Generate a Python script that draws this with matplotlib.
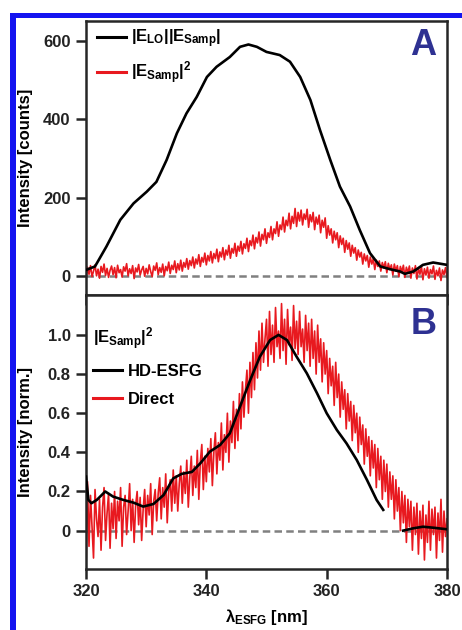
import numpy as np
import matplotlib
matplotlib.use("Agg")
import matplotlib.pyplot as plt
from matplotlib.patches import Rectangle

plt.rcParams['font.family'] = ['Liberation Sans', 'DejaVu Sans']
plt.rcParams['font.weight'] = 'bold'
plt.rcParams['mathtext.fontset'] = 'custom'
plt.rcParams['mathtext.rm'] = 'Liberation Sans:bold'
plt.rcParams['mathtext.it'] = 'Liberation Sans:bold'
plt.rcParams['mathtext.bf'] = 'Liberation Sans:bold'
plt.rcParams['mathtext.sf'] = 'Liberation Sans:bold'

# ---------------- data ----------------
# common wavelength grid of the noisy direct spectra (nm)
wl_direct = np.arange(320.0, 380.001, 0.25)

# Panel A: |E_Samp|^2 direct measurement (counts)
a_direct = [
    -8, 22, 4, 26, -2, 12, 28, 0, 17, -6, 24, 9, 30, 1, 19, -4, 14, 25, 3, 21,
    -5, 27, 8, 16, -3, 23, 12, 31, 0, 18, 6, 26, -7, 20, 10, 29, 2, 15, 24, -1,
    19, 5, 28, 11, -2, 25, 14, 33, 3, 21, 9, 30, 0, 24, 13, 35, 6, 27, 16, 38,
    8, 31, 15, 40, 12, 34, 22, 44, 17, 39, 26, 48, 20, 43, 30, 54, 24, 47, 35, 58,
    28, 52, 38, 62, 33, 57, 44, 68, 36, 61, 48, 72, 41, 66, 53, 78, 45, 70, 58, 83,
    50, 76, 63, 88, 56, 82, 70, 96, 62, 90, 77, 104, 69, 98, 84, 112, 76, 106, 92, 120,
    83, 110, 98, 126, 92, 120, 108, 138, 101, 130, 118, 150, 112, 142, 128, 160, 120, 152, 134, 172,
    126, 162, 140, 168, 130, 158, 144, 170, 124, 156, 138, 162, 118, 150, 132, 155, 110, 142, 124, 148,
    96, 128, 104, 120, 84, 114, 92, 110, 72, 102, 80, 96, 60, 90, 68, 84, 50, 78, 58, 72,
    40, 66, 48, 60, 30, 56, 38, 52, 22, 48, 30, 44, 16, 40, 24, 38, 12, 34, 20, 36,
    8, 32, 16, 28, 2, 30, 12, 26, -2, 24, 10, 27, -4, 22, 8, 25, -6, 20, 6, 26,
    -8, 19, 4, 24, -10, 18, 2, 22, -6, 16, 5, 25, -9, 14, 0, 20, -12, 15, 3, 21,
    -4,
]

# Panel A: |E_LO||E_Samp| (counts)
a_hd_wl = [320.0, 321.5, 323.4, 325.7, 327.9, 330.1, 331.7, 333.4, 335.1, 336.7,
           338.4, 340.1, 341.7, 343.9, 345.6, 347.0, 348.4, 350.0, 352.2, 353.9,
           355.6, 357.3, 358.9, 360.6, 362.2, 363.9, 365.5, 367.2, 368.9, 370.5,
           372.2, 373.0, 374.4, 376.0, 377.7, 380.0]
a_hd = [15, 24, 75, 143, 185, 215, 240, 296, 364, 415,
        457, 508, 534, 559, 585, 591, 585, 572, 564, 547,
        508, 449, 372, 296, 228, 177, 117, 58, 24, 17,
        11, 5, 11, 28, 34, 28]

# Panel B: |E_Samp|^2 direct (normalized)
b_direct = [
    -0.20, 0.25, -0.08, 0.18, 0.02, -0.14, 0.21, 0.06, -0.03, 0.16, -0.10, 0.12, 0.22, -0.05, 0.09, 0.19, -0.09, 0.14, 0.01, 0.20,
    -0.04, 0.15, 0.05, 0.22, -0.08, 0.12, 0.18, -0.02, 0.10, 0.24, 0.00, 0.16, -0.06, 0.13, 0.20, 0.03, 0.17, -0.05, 0.11, 0.21,
    0.02, 0.18, 0.08, 0.24, -0.02, 0.15, 0.21, 0.05, 0.19, 0.27, 0.06, 0.22, 0.12, 0.29, 0.04, 0.20, 0.26, 0.10, 0.31, 0.14,
    0.28, 0.10, 0.24, 0.33, 0.14, 0.30, 0.19, 0.36, 0.12, 0.27, 0.38, 0.18, 0.33, 0.22, 0.41, 0.16, 0.35, 0.44, 0.21, 0.38,
    0.25, 0.42, 0.30, 0.47, 0.23, 0.40, 0.50, 0.29, 0.45, 0.36, 0.55, 0.31, 0.49, 0.40, 0.60, 0.35, 0.56, 0.45, 0.66, 0.42,
    0.62, 0.46, 0.70, 0.52, 0.76, 0.58, 0.72, 0.82, 0.60, 0.86, 0.68, 0.91, 0.72, 0.96, 0.78, 1.02, 0.82, 1.06, 0.86, 0.98,
    1.08, 0.84, 1.12, 0.90, 1.05, 0.86, 1.14, 0.94, 1.02, 0.88, 1.16, 0.92, 1.08, 0.85, 1.13, 0.95, 1.04, 0.87, 1.15, 0.93,
    1.07, 0.90, 1.12, 0.94, 1.03, 0.86, 1.10, 0.92, 1.06, 0.84, 1.08, 0.88, 1.02, 0.80, 1.05, 0.86, 0.98, 0.76, 0.96, 0.80,
    0.92, 0.70, 0.88, 0.74, 0.84, 0.64, 0.86, 0.68, 0.80, 0.58, 0.76, 0.62, 0.72, 0.52, 0.70, 0.56, 0.66, 0.46, 0.64, 0.50,
    0.60, 0.40, 0.58, 0.44, 0.54, 0.34, 0.52, 0.38, 0.48, 0.28, 0.46, 0.32, 0.44, 0.22, 0.42, 0.26, 0.38, 0.16, 0.36, 0.20,
    0.34, 0.12, 0.30, 0.16, 0.28, 0.06, 0.26, 0.10, 0.22, 0.00, 0.20, 0.04, 0.18, -0.06, 0.16, 0.02, 0.15, -0.10, 0.12, -0.02,
    0.14, -0.12, 0.10, -0.04, 0.13, -0.15, 0.08, -0.06, 0.15, -0.10, 0.11, -0.02, 0.12, -0.14, 0.09, -0.05, 0.16, -0.11, 0.10, -0.03,
    0.06,
]

# Panel B: HD-ESFG (normalized); NaN marks the gap in the trace
b_hd_wl = [320.0, 320.4, 320.9, 321.8, 323.2, 324.5, 326.2, 327.9, 329.5, 331.2,
           332.9, 334.5, 335.9, 337.6, 339.0, 340.6, 342.3, 343.9, 345.6, 347.3,
           348.9, 350.6, 352.0, 353.4, 355.0, 356.7, 358.4, 360.0, 361.7, 363.3,
           365.0, 366.7, 368.3, 369.4, 371.0, 372.7, 374.4, 376.0, 377.7, 380.0]
b_hd = [0.276, 0.157, 0.14, 0.157, 0.20, 0.174, 0.157, 0.143, 0.123, 0.136,
        0.182, 0.267, 0.29, 0.30, 0.344, 0.404, 0.438, 0.497, 0.634, 0.77,
        0.889, 0.974, 1.0, 0.974, 0.889, 0.804, 0.702, 0.60, 0.514, 0.446,
        0.361, 0.259, 0.157, 0.106, np.nan, 0.0, 0.012, 0.02, 0.015, 0.007]

x_ticks = [320, 340, 360, 380]
a_yticks = [0, 200, 400, 600]
b_yticks = [0, 0.2, 0.4, 0.6, 0.8, 1.0]
b_yticklabels = ['0', '0.2', '0.4', '0.6', '0.8', '1.0']

# ---------------- styling ----------------
RED = '#e8191f'
SPINE = '#262626'
LETTER = '#2e3192'
FS = 12

fig = plt.figure(figsize=(4.62, 6.30), dpi=100)
fig.patch.set_facecolor('white')

# blue frame (top & left edges)
fig.add_artist(Rectangle((10 / 462, 0), 6 / 462, 1 - 12.5 / 630,
                         transform=fig.transFigure, color='#1414f0', lw=0))
fig.add_artist(Rectangle((10 / 462, 1 - 17.5 / 630), 1, 5 / 630,
                         transform=fig.transFigure, color='#1414f0', lw=0))

L, W = 86 / 462, 361 / 462
axA = fig.add_axes([L, 1 - 295 / 630, W, 274 / 630])
axB = fig.add_axes([L, 1 - 569 / 630, W, 274 / 630], sharex=axA)

for ax in (axA, axB):
    for s in ax.spines.values():
        s.set_linewidth(1.8)
        s.set_color(SPINE)
    ax.tick_params(direction='out', length=7.5, width=1.8, color=SPINE,
                   labelsize=FS, pad=3.5, labelcolor='#222222')
    ax.axhline(0, color='#808080', lw=1.8, ls=(0, (3, 1.7)), zorder=1)

# Panel A
axA.plot(wl_direct, a_direct, color=RED, lw=1.2, zorder=2,
         label=r'$|E_{\mathrm{Samp}}|^2$')
axA.plot(a_hd_wl, a_hd, color='black', lw=1.9, zorder=3,
         label=r'$|E_{\mathrm{LO}}||E_{\mathrm{Samp}}|$')
axA.set_xlim(320, 380)
axA.set_ylim(-49, 651)
axA.set_yticks(a_yticks)
axA.set_xticks(x_ticks)
axA.tick_params(axis='x', labelbottom=False)
axA.set_ylabel('Intensity [counts]', fontsize=FS, fontweight='bold')
axA.yaxis.set_label_coords(-0.148, 0.5)
h, l = axA.get_legend_handles_labels()
legA = axA.legend(h[::-1], l[::-1], loc='upper left', bbox_to_anchor=(0.03, 0.975),
                  frameon=False, fontsize=FS, handlelength=1.75, handletextpad=0.3,
                  labelspacing=0.55, borderpad=0, borderaxespad=0)
for ln in legA.get_lines():
    ln.set_linewidth(2.2)
axA.text(0.934, 0.912, 'A', transform=axA.transAxes, fontsize=26,
         fontweight='bold', color=LETTER, ha='center', va='center')

# Panel B
axB.plot(wl_direct, b_direct, color=RED, lw=1.2, zorder=2, label='Direct')
axB.plot(b_hd_wl, b_hd, color='black', lw=1.9, zorder=3, label='HD-ESFG')
axB.set_ylim(-0.196, 1.204)
axB.set_yticks(b_yticks)
axB.set_yticklabels(b_yticklabels)
axB.set_xticks(x_ticks)
axB.set_ylabel('Intensity [norm.]', fontsize=FS, fontweight='bold')
axB.yaxis.set_label_coords(-0.148, 0.5)
axB.set_xlabel(r'$\lambda_{\mathrm{ESFG}}$ [nm]', fontsize=FS, fontweight='bold')
axB.xaxis.set_label_coords(0.5, -0.14)
h, l = axB.get_legend_handles_labels()
legB = axB.legend(h[::-1], l[::-1], loc='upper left', bbox_to_anchor=(0.02, 0.89),
                  frameon=False, fontsize=FS, handlelength=1.75, handletextpad=0.3,
                  labelspacing=0.75, borderpad=0, borderaxespad=0,
                  title=r'$|E_{\mathrm{Samp}}|^2$', title_fontsize=FS,
                  alignment='left')
for ln in legB.get_lines():
    ln.set_linewidth(2.2)
axB.text(0.936, 0.894, 'B', transform=axB.transAxes, fontsize=26,
         fontweight='bold', color=LETTER, ha='center', va='center')

fig.savefig('out.png', dpi=100, facecolor='white')
